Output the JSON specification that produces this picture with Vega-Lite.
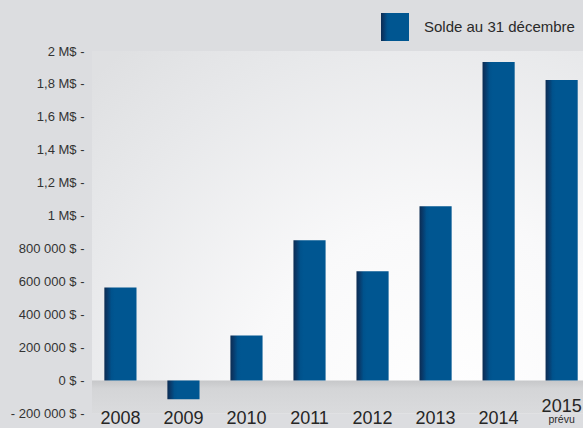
{
  "$schema": "https://vega.github.io/schema/vega-lite/v6.json",
  "width": 491,
  "height": 362.5,
  "autosize": {"type": "none"},
  "padding": {"left": 92, "top": 51, "right": 0, "bottom": 14.5},
  "background": "#dcdde0",
  "config": {
    "font": "Liberation Sans, Arial, sans-serif",
    "view": {
      "stroke": null,
      "fill": {
        "gradient": "radial",
        "x1": 0.72, "y1": 0.88, "r1": 0,
        "x2": 0.72, "y2": 0.88, "r2": 1.0,
        "stops": [
          {"offset": 0, "color": "#ffffff"},
          {"offset": 0.4, "color": "#f9f9fa"},
          {"offset": 0.8, "color": "#e7e8ea"},
          {"offset": 1, "color": "#dfe0e2"}
        ]
      }
    }
  },
  "data": {
    "values": [
      {"annee": "2008", "solde": 565000, "statut": ""},
      {"annee": "2009", "solde": -114000, "statut": ""},
      {"annee": "2010", "solde": 274000, "statut": ""},
      {"annee": "2011", "solde": 851000, "statut": ""},
      {"annee": "2012", "solde": 663000, "statut": ""},
      {"annee": "2013", "solde": 1058000, "statut": ""},
      {"annee": "2014", "solde": 1933000, "statut": ""},
      {"annee": "2015", "solde": 1824000, "statut": "prévu"}
    ]
  },
  "layer": [
    {
      "data": {"values": [{}]},
      "mark": {
        "type": "rect",
        "color": {
          "gradient": "linear",
          "x1": 0, "y1": 0, "x2": 0, "y2": 1,
          "stops": [
            {"offset": 0, "color": "#c6c7c9"},
            {"offset": 0.25, "color": "#d4d5d7"},
            {"offset": 1, "color": "#dadbdd"}
          ]
        }
      },
      "encoding": {
        "x": {"value": 0},
        "x2": {"value": "width"},
        "y": {
          "datum": 0,
          "type": "quantitative",
          "scale": {"domain": [-200000, 2000000], "nice": false},
          "axis": {
            "title": null,
            "domain": false,
            "ticks": false,
            "values": [-200000, 0, 200000, 400000, 600000, 800000, 1000000, 1200000, 1400000, 1600000, 1800000, 2000000],
            "labelExpr": "datum.value >= 1000000 ? replace(format(datum.value / 1000000, '~g'), '.', ',') + ' M$ -' : datum.value == 0 ? '0 $ -' : (datum.value < 0 ? '- ' : '') + replace(format(abs(datum.value), ','), ',', ' ') + ' $ -'",
            "labelFontSize": 13,
            "labelColor": "#333333",
            "labelPadding": 8,
            "labelOverlap": false,
            "labelFlush": false,
            "labelLimit": 0,
            "gridColor": "#d0d1d3",
            "gridWidth": 2,
            "gridOpacity": {"condition": {"test": "datum.value < 0", "value": 0}, "value": 1}
          }
        },
        "y2": {"datum": -200000}
      }
    },
    {
      "mark": {
        "type": "bar",
        "strokeWidth": 0,
        "color": {
          "gradient": "linear",
          "x1": 0, "y1": 0, "x2": 1, "y2": 0,
          "stops": [
            {"offset": 0, "color": "#0c2c52"},
            {"offset": 0.1, "color": "#083b6c"},
            {"offset": 0.22, "color": "#00528c"},
            {"offset": 0.32, "color": "#005691"},
            {"offset": 1, "color": "#005691"}
          ]
        }
      },
      "encoding": {
        "x": {
          "field": "annee",
          "type": "nominal",
          "scale": {"paddingInner": 0.49, "paddingOuter": 0.14, "align": 0.7},
          "axis": {
            "title": null,
            "domain": false,
            "ticks": false,
            "grid": false,
            "zindex": 1,
            "labelAngle": 0,
            "labelFontSize": 18,
            "labelColor": "#262626",
            "labelBaseline": "alphabetic",
            "labelOverlap": false,
            "labelPadding": {"condition": {"test": "datum.value == '2015'", "value": -2}, "value": 9.5}
          }
        },
        "y": {
          "field": "solde",
          "type": "quantitative",
          "scale": {"domain": [-200000, 2000000], "nice": false},
          "axis": {
            "title": null,
            "domain": false,
            "ticks": false,
            "values": [-200000, 0, 200000, 400000, 600000, 800000, 1000000, 1200000, 1400000, 1600000, 1800000, 2000000],
            "labelExpr": "datum.value >= 1000000 ? replace(format(datum.value / 1000000, '~g'), '.', ',') + ' M$ -' : datum.value == 0 ? '0 $ -' : (datum.value < 0 ? '- ' : '') + replace(format(abs(datum.value), ','), ',', ' ') + ' $ -'",
            "labelFontSize": 13,
            "labelColor": "#333333",
            "labelPadding": 8,
            "labelOverlap": false,
            "labelFlush": false,
            "labelLimit": 0,
            "gridColor": "#d0d1d3",
            "gridWidth": 2,
            "gridOpacity": {"condition": {"test": "datum.value < 0", "value": 0}, "value": 1}
          }
        },
        "stroke": {
          "datum": "Solde au 31 décembre",
          "scale": {"range": ["#005691"]},
          "legend": {
            "orient": "none",
            "legendX": 289,
            "legendY": -38,
            "title": null,
            "padding": 0,
            "symbolType": "square",
            "symbolSize": 784,
            "symbolStrokeWidth": 0,
            "symbolFillColor": "#005691",
            "labelFontSize": 15,
            "labelLimit": 0,
            "labelColor": "#2a2a2a",
            "labelOffset": 15
          }
        }
      }
    },
    {
      "transform": [{"filter": "datum.statut != ''"}],
      "mark": {
        "type": "text",
        "fontSize": 10.5,
        "color": "#2a2a2a",
        "baseline": "alphabetic",
        "dy": 9
      },
      "encoding": {
        "x": {
          "field": "annee",
          "type": "nominal",
          "axis": {
            "title": null,
            "domain": false,
            "ticks": false,
            "grid": false,
            "zindex": 1,
            "labelAngle": 0,
            "labelFontSize": 18,
            "labelColor": "#262626",
            "labelBaseline": "alphabetic",
            "labelOverlap": false,
            "labelPadding": {"condition": {"test": "datum.value == '2015'", "value": -2}, "value": 9.5}
          }
        },
        "y": {
          "datum": -200000,
          "type": "quantitative",
          "axis": {
            "title": null,
            "domain": false,
            "ticks": false,
            "values": [-200000, 0, 200000, 400000, 600000, 800000, 1000000, 1200000, 1400000, 1600000, 1800000, 2000000],
            "labelExpr": "datum.value >= 1000000 ? replace(format(datum.value / 1000000, '~g'), '.', ',') + ' M$ -' : datum.value == 0 ? '0 $ -' : (datum.value < 0 ? '- ' : '') + replace(format(abs(datum.value), ','), ',', ' ') + ' $ -'",
            "labelFontSize": 13,
            "labelColor": "#333333",
            "labelPadding": 8,
            "labelOverlap": false,
            "labelFlush": false,
            "labelLimit": 0,
            "gridColor": "#d0d1d3",
            "gridWidth": 2,
            "gridOpacity": {"condition": {"test": "datum.value < 0", "value": 0}, "value": 1}
          }
        },
        "text": {"field": "statut"}
      }
    }
  ]
}
